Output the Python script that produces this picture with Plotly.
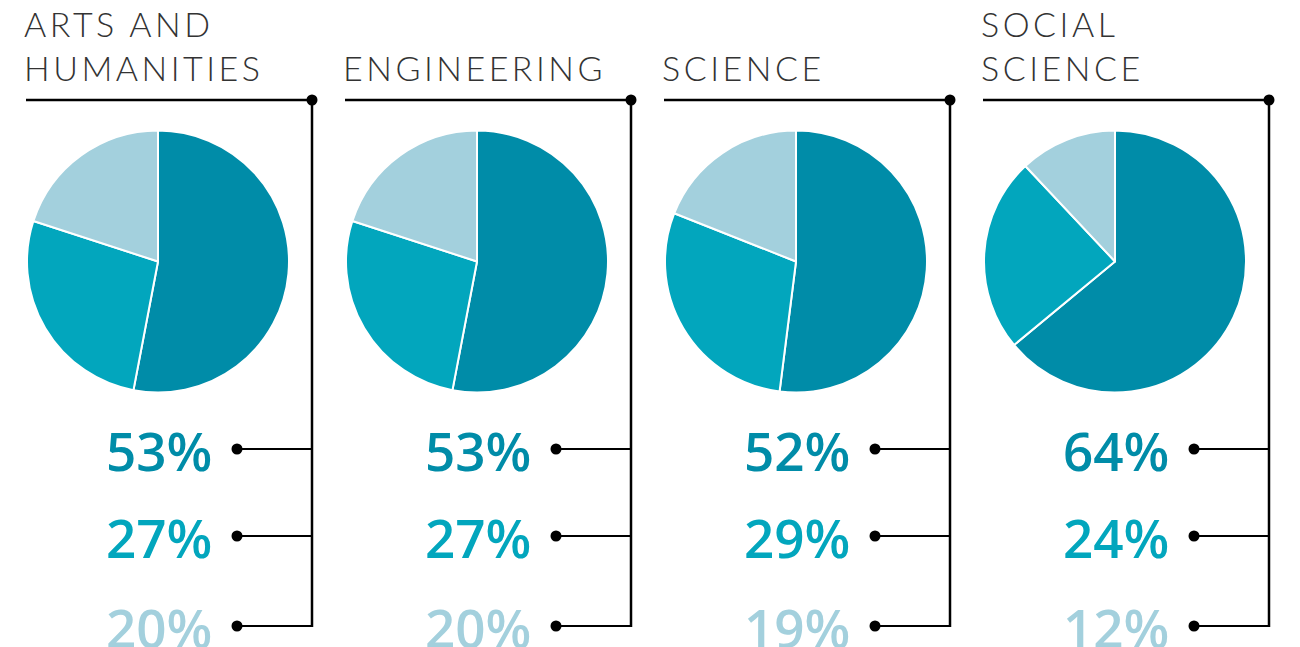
import plotly.graph_objects as go

# ---- data ----
fields = ["ARTS AND<br>HUMANITIES", "ENGINEERING", "SCIENCE", "SOCIAL<br>SCIENCE"]
share_top = [53, 53, 52, 64]
share_mid = [27, 27, 29, 24]
share_low = [20, 20, 19, 12]
labels = ["Top", "Middle", "Low"]

colors = ["#008ca8", "#02a6bd", "#a3d0dd"]

W, H = 1300, 647
def px(x):
    return x / W
def py(y):
    return 1 - y / H

fig = go.Figure()

panel_dx = 319
pie_cx0, pie_cy, pie_r = 158, 261.5, 131
title_x0 = 26
vline_x0 = 312
hline_y = 100
dot_x0 = 237
label_right0 = 214
row_y = [449, 536, 626]

shapes = []
annotations = []
for i, name in enumerate(fields):
    off = i * panel_dx
    cx = pie_cx0 + off
    vals = [share_top[i], share_mid[i], share_low[i]]
    fig.add_trace(go.Pie(
        values=vals, labels=labels, sort=False, direction="clockwise", rotation=0,
        marker=dict(colors=colors, line=dict(color="white", width=2)),
        textinfo="none", hoverinfo="label+percent", showlegend=False,
        domain=dict(x=[px(cx - pie_r), px(cx + pie_r)], y=[py(pie_cy + pie_r), py(pie_cy - pie_r)]),
    ))
    # title
    styled = "<br>".join(f'<span style="letter-spacing:3.5px">{t}</span>' for t in name.split("<br>"))
    annotations.append(dict(
        text=styled, x=px(title_x0 + off - 4), y=py(90.5), xref="paper", yref="paper",
        xanchor="left", yanchor="bottom", showarrow=False, align="left",
        font=dict(family="Lato", size=34, color="#333333", weight=300),
    ))
    vx = vline_x0 + off
    # title line
    shapes.append(dict(type="line", xref="paper", yref="paper",
                       x0=px(title_x0 + off), x1=px(vx), y0=py(hline_y), y1=py(hline_y),
                       line=dict(color="black", width=2.5)))
    shapes.append(dict(type="circle", xref="paper", yref="paper",
                       x0=px(vx - 5.5), x1=px(vx + 5.5), y0=py(hline_y - 5.5), y1=py(hline_y + 5.5),
                       fillcolor="black", line=dict(width=0)))
    # vertical line
    shapes.append(dict(type="line", xref="paper", yref="paper",
                       x0=px(vx), x1=px(vx), y0=py(hline_y), y1=py(row_y[-1] + 1),
                       line=dict(color="black", width=2.5)))
    dx = dot_x0 + off
    for j, v in enumerate(vals):
        y = row_y[j]
        shapes.append(dict(type="line", xref="paper", yref="paper",
                           x0=px(dx), x1=px(vx), y0=py(y), y1=py(y),
                           line=dict(color="black", width=2.2)))
        shapes.append(dict(type="circle", xref="paper", yref="paper",
                           x0=px(dx - 5.5), x1=px(dx + 5.5), y0=py(y - 5.5), y1=py(y + 5.5),
                           fillcolor="black", line=dict(width=0)))
        annotations.append(dict(
            text=f"{v}%", x=px(label_right0 + off), y=py(y + 1), xref="paper", yref="paper",
            xanchor="right", yanchor="middle", showarrow=False,
            font=dict(family="Open Sans", size=53, color=colors[j], weight=600),
        ))

fig.update_layout(
    width=W, height=H, margin=dict(l=0, r=0, t=0, b=0),
    paper_bgcolor="white", plot_bgcolor="white",
    shapes=shapes, annotations=annotations,
)
fig.write_html("out.html", config={"displayModeBar": False},
               post_script="document.body.style.margin='0';document.body.style.overflow='hidden';")
